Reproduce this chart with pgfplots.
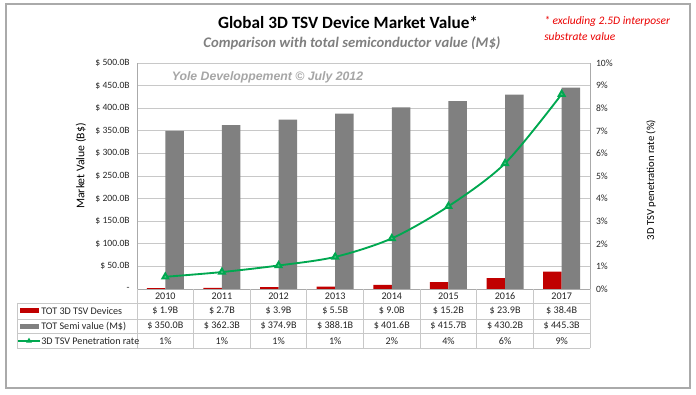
\documentclass[border=0pt]{standalone}
\usepackage{pgfplots}
\pgfplotsset{compat=1.18}
\usetikzlibrary{shapes.geometric}
\usepackage{fontspec}
\setmainfont{Carlito}
\newfontfamily\arialfont{Liberation Sans}
\definecolor{tsvred}{RGB}{192,0,0}
\definecolor{semigray}{RGB}{128,128,128}
\definecolor{pengreen}{RGB}{0,168,80}
\definecolor{gridgray}{RGB}{200,200,200}
\definecolor{axgray}{RGB}{170,170,170}
\definecolor{subgray}{RGB}{128,128,128}
\definecolor{wmgray}{RGB}{166,166,166}
\definecolor{notered}{RGB}{235,0,0}
\begin{document}
\begin{tikzpicture}
\begin{axis}[at={(102.75pt,-216.75pt)}, anchor=south west, scale only axis,
  width=339.75pt, height=169.5pt,
  xmin=-0.5, xmax=7.5, ymin=0, ymax=500,
  xtick=\empty,
  ytick={0,50,...,500},
  yticklabels={-,\$ 50.0B,\$ 100.0B,\$ 150.0B,\$ 200.0B,\$ 250.0B,\$ 300.0B,\$ 350.0B,\$ 400.0B,\$ 450.0B,\$ 500.0B},
  yticklabel style={font=\fontsize{7.2}{8}\selectfont, text=black!85, xshift=-2pt},
  axis y line*=left, axis x line*=bottom,
  axis line style={axgray, line width=0.6pt, -},
  major tick length=0pt,
  ymajorgrids, grid style={gridgray, line width=0.6pt},
]
\addplot[ybar, bar width=13.9pt, bar shift=-6.95pt, fill=tsvred, draw=none]
  coordinates {(0,1.9)(1,2.7)(2,3.9)(3,5.5)(4,9.0)(5,15.2)(6,23.9)(7,38.4)};
\addplot[ybar, bar width=13.9pt, bar shift=6.95pt, fill=semigray, draw=none]
  coordinates {(0,350.0)(1,362.3)(2,374.9)(3,388.1)(4,401.6)(5,415.7)(6,430.2)(7,445.3)};
\end{axis}

\begin{scope}[x=0.75pt,y=-0.75pt]
% watermark
\node[fill=white, font=\arialfont\bfseries\itshape\fontsize{9.2}{11}\selectfont, text=wmgray,
  minimum width=173pt, minimum height=12pt, inner sep=0pt] at (267.5,77) {Yole Developpement \textcopyright{} July 2012};
\end{scope}

\begin{axis}[at={(102.75pt,-216.75pt)}, anchor=south west, scale only axis,
  width=339.75pt, height=169.5pt,
  xmin=-0.5, xmax=7.5, ymin=0, ymax=10,
  axis x line=none, axis y line*=right,
  ytick={0,1,...,10},
  yticklabels={0\%,1\%,2\%,3\%,4\%,5\%,6\%,7\%,8\%,9\%,10\%},
  yticklabel style={font=\fontsize{7.2}{8}\selectfont, text=black!85, xshift=1pt},
  axis line style={axgray, line width=0.6pt, -},
  major tick length=0pt,
]
\addplot[pengreen, line width=1.4pt, smooth, mark=triangle*, mark size=2.6pt,
  mark options={fill=pengreen!70!white, draw=pengreen}]
  coordinates {(0,0.54)(1,0.75)(2,1.04)(3,1.42)(4,2.24)(5,3.66)(6,5.56)(7,8.62)};
\end{axis}

\begin{scope}[x=0.75pt,y=-0.75pt]
\path[use as bounding box] (0,0) rectangle (696,395);
\draw[axgray, line width=0.9pt] (6,4) rectangle (690,388);

% titles
\node[font=\bfseries\fontsize{12.9}{15}\selectfont] at (348,22) {Global 3D TSV Device Market Value*};
\node[font=\bfseries\itshape\fontsize{11}{13}\selectfont, text=subgray] at (352,43) {Comparison with total semiconductor value (M\$)};
\node[font=\itshape\fontsize{8.6}{10}\selectfont, text=notered, anchor=west, inner sep=0pt] at (544,21) {* excluding 2.5D interposer};
\node[font=\itshape\fontsize{8.6}{10}\selectfont, text=notered, anchor=west, inner sep=0pt] at (544,37) {substrate value};

% axis titles
\node[rotate=90, font=\fontsize{8.8}{10}\selectfont] at (81,166) {Market Value (B\$)};
\node[rotate=90, font=\fontsize{8}{10}\selectfont] at (651,180) {3D TSV penetration rate (\%)};

% data table
\begin{scope}[draw=gridgray, line width=0.6pt]
\foreach \k in {0,...,8} \draw ({137+56.625*\k},289) -- ({137+56.625*\k},348);
\draw (17,303) -- (17,348);
\foreach \yy in {303,319,333.5,348} \draw (17,\yy) -- (590,\yy);
\end{scope}
\begin{scope}[font=\fontsize{7.6}{9}\selectfont, text=black!85]
\foreach \t [count=\i from 0] in {2010,2011,2012,2013,2014,2015,2016,2017}
  \node at ({137+56.625*(\i+0.5)},296) {\t};
\foreach \t [count=\i from 0] in {\$ 1.9B,\$ 2.7B,\$ 3.9B,\$ 5.5B,\$ 9.0B,\$ 15.2B,\$ 23.9B,\$ 38.4B}
  \node at ({137+56.625*(\i+0.5)},311) {\t};
\foreach \t [count=\i from 0] in {\$ 350.0B,\$ 362.3B,\$ 374.9B,\$ 388.1B,\$ 401.6B,\$ 415.7B,\$ 430.2B,\$ 445.3B}
  \node at ({137+56.625*(\i+0.5)},326) {\t};
\foreach \t [count=\i from 0] in {1\%,1\%,1\%,1\%,2\%,4\%,6\%,9\%}
  \node at ({137+56.625*(\i+0.5)},341) {\t};
\node[anchor=west, inner sep=0pt] at (41,311) {TOT 3D TSV Devices};
\node[anchor=west, inner sep=0pt] at (41,326) {TOT Semi value (M\$)};
\node[anchor=west, inner sep=0pt] at (41,341) {3D TSV Penetration rate};
\end{scope}
% legend keys
\fill[tsvred] (20,308.5) rectangle (39,313.5);
\fill[semigray] (20,323.5) rectangle (39,328.5);
\draw[pengreen, line width=1.4pt] (18,341) -- (40,341);
\node[pengreen, fill=pengreen, regular polygon, regular polygon sides=3, inner sep=0pt, minimum size=5pt] at (29,341) {};
\end{scope}
\end{tikzpicture}
\end{document}
